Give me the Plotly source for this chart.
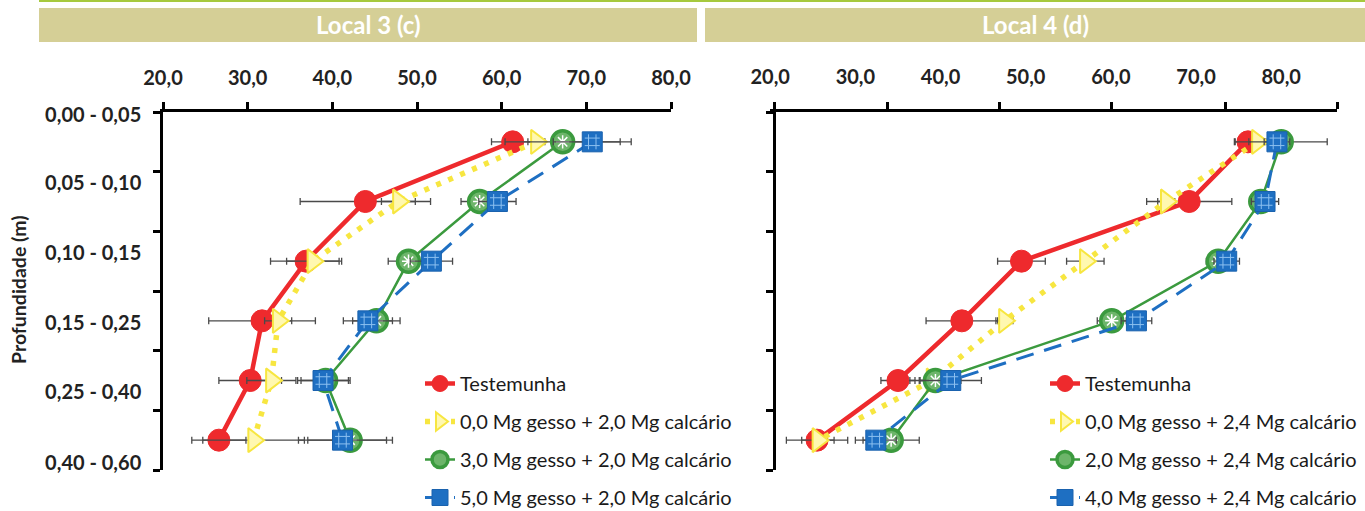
import plotly.graph_objects as go

# ---- data -------------------------------------------------------------
depths = ["0,00 - 0,05", "0,05 - 0,10", "0,10 - 0,15",
          "0,15 - 0,25", "0,25 - 0,40", "0,40 - 0,60"]
x_ticks = [20, 30, 40, 50, 60, 70, 80]
x_ticktext = ["20,0", "30,0", "40,0", "50,0", "60,0", "70,0", "80,0"]

# Local 3 (c)
l3_names = ["Testemunha",
            "0,0 Mg gesso + 2,0 Mg calcário",
            "3,0 Mg gesso + 2,0 Mg calcário",
            "5,0 Mg gesso + 2,0 Mg calcário"]
l3_test = [61.3, 43.9, 36.9, 31.7, 30.3, 26.6]
l3_test_err = [2.5, 7.7, 4.2, 6.3, 3.7, 3.2]
l3_g0 = [64.1, 47.8, 37.7, 33.6, 32.8, 30.7]
l3_g0_err = [1.0, 2.0, 3.1, 1.6, 2.9, 6.0]
l3_g3 = [67.2, 57.4, 49.0, 45.2, 39.2, 42.1]
l3_g3_err = [6.8, 2.2, 2.4, 2.8, 2.9, 5.0]
l3_g5 = [70.7, 59.5, 51.7, 44.2, 38.9, 41.2]
l3_g5_err = [4.6, 2.2, 2.5, 2.9, 3.0, 5.2]

# Local 4 (d)
l4_names = ["Testemunha",
            "0,0 Mg gesso + 2,4 Mg calcário",
            "2,0 Mg gesso + 2,4 Mg calcário",
            "4,0 Mg gesso + 2,4 Mg calcário"]
l4_test = [76.1, 69.2, 49.5, 42.5, 35.0, 25.5]
l4_test_err = [1.6, 5.0, 2.8, 4.2, 2.0, 3.6]
l4_g0 = [77.2, 66.5, 57.0, 47.5, 39.0, 25.6]
l4_g0_err = [1.0, 1.0, 2.2, 1.0, 1.5, 1.9]
l4_g2 = [80.0, 77.6, 72.6, 60.1, 39.4, 34.2]
l4_g2_err = [5.4, 1.2, 1.4, 1.7, 3.0, 3.3]
l4_g4 = [79.5, 78.1, 73.6, 63.0, 41.2, 32.4]
l4_g4_err = [1.5, 1.6, 1.5, 1.8, 3.6, 2.4]

# ---- layout helpers --------------------------------------------------
W, H = 1365, 511
FONT = "Lato"


def fx(p):
    return p / W


def fy(p):
    return 1 - p / H


# depth classes sit in the middle of each band between the y ticks
y_pos = [i + 0.5 for i in range(len(depths))]
y_label_pos = [0.05, 1.19, 2.36, 3.54, 4.69, 5.88]
y_band_ticks = list(range(len(depths) + 1))
x2_range = [20.0, 86.55]
x2_tick_marks = [20.45, 33.72, 46.98, 60.13, 73.5, 86.55]

RED, YEL, GRN, BLU = "#EE2A2D", "#F7E640", "#3B9A3E", "#1E6FC2"
ERR = "#4A4A4A"

styles = [
    dict(line=dict(color=RED, width=4.5),
         marker=dict(symbol="circle", size=22, color=RED,
                     line=dict(color=RED, width=1))),
    dict(line=dict(color=YEL, width=5.5, dash="5px,8px"),
         marker=dict(symbol="triangle-right", size=21, color="#FFF8B0",
                     line=dict(color=YEL, width=2))),
    dict(line=dict(color=GRN, width=2.5),
         marker=dict(symbol="circle", size=22, color="#6DB56A",
                     line=dict(color=GRN, width=3.5))),
    dict(line=dict(color=BLU, width=3, dash="18px,11px"),
         marker=dict(symbol="square", size=20, color=BLU,
                     line=dict(color="#1A62AE", width=1))),
]

fig = go.Figure()

panels = [
    ("x", "y", "legend", l3_names,
     [(l3_test, l3_test_err), (l3_g0, l3_g0_err),
      (l3_g3, l3_g3_err), (l3_g5, l3_g5_err)]),
    ("x2", "y2", "legend2", l4_names,
     [(l4_test, l4_test_err), (l4_g0, l4_g0_err),
      (l4_g2, l4_g2_err), (l4_g4, l4_g4_err)]),
]

for xa, ya, leg, names, series in panels:
    for k, ((vals, errs), name, st) in enumerate(zip(series, names, styles)):
        fig.add_trace(go.Scatter(
            x=vals, y=y_pos, name=name, mode="lines+markers",
            xaxis=xa, yaxis=ya, legend=leg,
            legendgroup=f"{leg}-{k}",
            line=st["line"], marker=st["marker"],
            error_x=dict(type="data", array=errs, visible=True,
                         color=ERR, thickness=1.3, width=3.5),
        ))
        # dotted texture on the green circles
        if k == 2:
            fig.add_trace(go.Scatter(
                x=vals, y=y_pos, mode="markers", xaxis=xa, yaxis=ya,
                showlegend=False, hoverinfo="skip",
                marker=dict(symbol="asterisk-open", size=11, color="white",
                            line=dict(width=1.5)),
            ))
        # grid texture on the square markers
        if k == 3:
            fig.add_trace(go.Scatter(
                x=vals, y=y_pos, mode="markers", xaxis=xa, yaxis=ya,
                showlegend=False, hoverinfo="skip",
                marker=dict(symbol="hash-open", size=15, color="#8CC0F0",
                            line=dict(width=1)),
            ))

tick_font = dict(family=FONT, size=20, color="#222222", weight="bold")
axis_common = dict(showline=True, linecolor="black", linewidth=2.5,
                   showgrid=False, zeroline=False, fixedrange=True)
legend_font = dict(family=FONT, size=20, color="#1a1a1a")

fig.update_layout(
    width=W, height=H, autosize=False,
    margin=dict(l=0, r=0, t=0, b=0, autoexpand=False),
    paper_bgcolor="white", plot_bgcolor="white",
    font=dict(family=FONT, color="#222222"),
    xaxis=dict(domain=[fx(163), fx(671)], range=[20, 80], side="top",
               anchor="y", tickvals=x_ticks, ticktext=x_ticktext,
               ticks="outside", ticklen=7, tickwidth=2.5, tickcolor="black",
               ticklabelstandoff=9, tickfont=tick_font, **axis_common),
    yaxis=dict(domain=[fy(470), fy(112)], range=[6, 0], anchor="x",
               tickvals=y_label_pos, ticktext=depths, ticks="",
               ticklabelstandoff=15, tickfont=tick_font,
               minor=dict(tickvals=y_band_ticks, ticks="outside", ticklen=7,
                          tickwidth=2.5, tickcolor="black"),
               **axis_common),
    xaxis2=dict(domain=[fx(770.2), fx(1337)], range=x2_range, side="top",
                anchor="y2", tickvals=x_ticks, ticktext=x_ticktext,
                ticks="", ticklabelstandoff=17, tickfont=tick_font,
                minor=dict(tickvals=x2_tick_marks, ticks="outside",
                           ticklen=7, tickwidth=2.5, tickcolor="black"),
                **axis_common),
    yaxis2=dict(domain=[fy(470), fy(112)], range=[6, 0], anchor="free",
                position=fx(774), showticklabels=False, ticks="",
                tickvals=y_label_pos,
                minor=dict(tickvals=y_band_ticks, ticks="outside", ticklen=7,
                           tickwidth=2.5, tickcolor="black"),
                **axis_common),
    legend=dict(x=fx(420), y=fy(364), xanchor="left", yanchor="top",
                bgcolor="rgba(0,0,0,0)", tracegroupgap=9, font=legend_font),
    legend2=dict(x=fx(1045), y=fy(364), xanchor="left", yanchor="top",
                 bgcolor="rgba(0,0,0,0)", tracegroupgap=9, font=legend_font),
    showlegend=True,
)

# title bars over each panel
fig.add_shape(type="line", xref="paper", yref="paper",
              x0=fx(39), x1=1, y0=fy(1), y1=fy(1),
              line=dict(color="#A6C93E", width=2))
for x0, x1, title in [(39, 697, "Local 3 (c)"), (705, 1365, "Local 4 (d)")]:
    fig.add_shape(type="rect", xref="paper", yref="paper",
                  x0=fx(x0), x1=fx(x1), y0=fy(42), y1=fy(8),
                  fillcolor="#D5CF96", line=dict(width=0), layer="below")
    fig.add_annotation(xref="paper", yref="paper", x=fx((x0 + x1) / 2),
                       y=fy(24), text=f"<b>{title}</b>", showarrow=False,
                       font=dict(family=FONT, size=24, color="white"),
                       xanchor="center", yanchor="middle")

fig.add_annotation(xref="paper", yref="paper", x=fx(18), y=fy(290),
                   text="<b>Profundidade (m)</b>", textangle=-90,
                   showarrow=False, xanchor="center", yanchor="middle",
                   font=dict(family=FONT, size=19.5, color="#222222"))

fig.write_html("out.html")
